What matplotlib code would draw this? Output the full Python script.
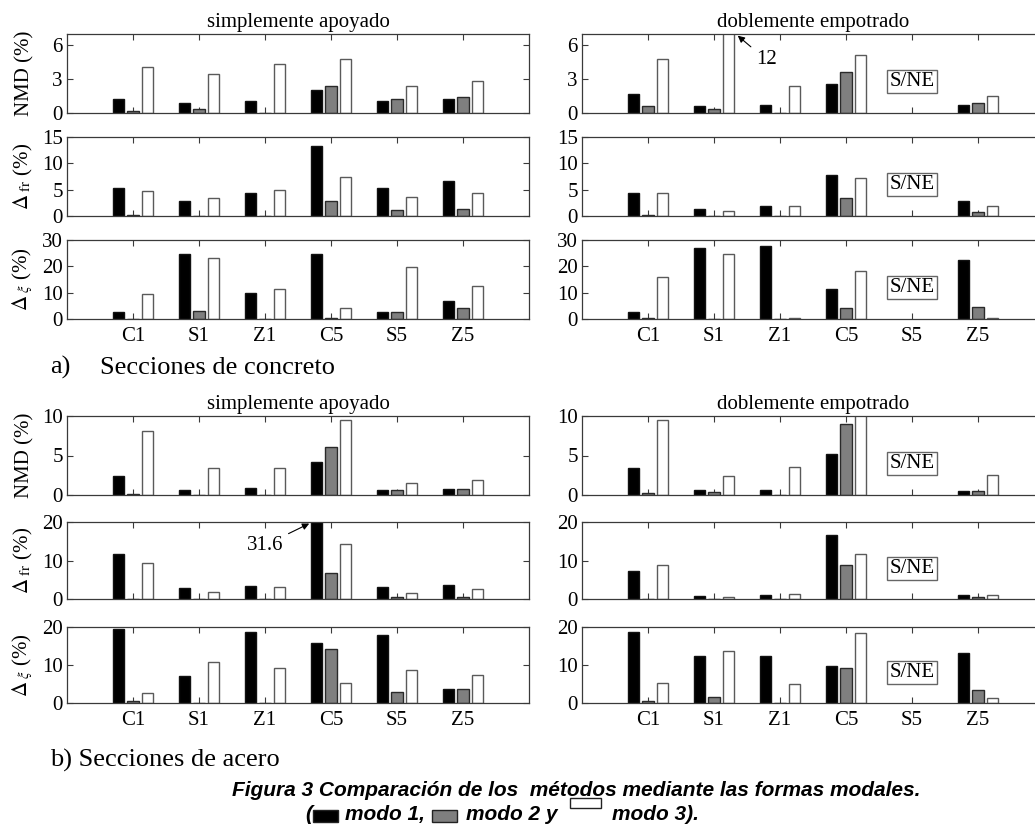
import numpy as np
import matplotlib
matplotlib.use('Agg')
import matplotlib.pyplot as plt
from matplotlib.patches import Rectangle
import matplotlib.transforms as mtransforms

plt.rcParams['font.family'] = ['Liberation Serif', 'DejaVu Serif']
plt.rcParams['mathtext.fontset'] = 'stix'

# ---------------- data ----------------
sections = ['C1', 'S1', 'Z1', 'C5', 'S5', 'Z5']
modes = ['modo 1', 'modo 2', 'modo 3']
nan = np.nan

# a) concrete sections, simply supported  (rows: modo 1, modo 2, modo 3)
conc_sa_nmd = [[1.23, 0.84, 1.05, 2.00, 0.99, 1.17],
               [0.15, 0.33, 0.00, 2.37, 1.20, 1.41],
               [4.08, 3.45, 4.30, 4.74, 2.34, 2.85]]
conc_sa_dfr = [[5.35, 2.90, 4.45, 13.2, 5.35, 6.60],
               [0.15, 0.00, 0.00, 2.80, 1.10, 1.40],
               [4.70, 3.35, 5.00, 7.50, 3.60, 4.30]]
conc_sa_dxi = [[2.56, 24.6, 9.90, 24.6, 2.56, 6.90],
               [0.00, 3.20, 0.00, 0.40, 2.56, 4.10],
               [9.40, 23.2, 11.5, 4.10, 19.9, 12.4]]
# a) concrete sections, fixed-fixed
conc_de_nmd = [[1.62, 0.54, 0.66, 2.52, nan, 0.69],
               [0.54, 0.33, 0.00, 3.57, nan, 0.81],
               [4.74, 12.0, 2.34, 5.10, nan, 1.50]]
conc_de_dfr = [[4.45, 1.40, 1.87, 7.87, nan, 2.90],
               [0.15, 0.00, 0.00, 3.40, nan, 0.77],
               [4.40, 0.97, 1.87, 7.16, nan, 1.87]]
conc_de_dxi = [[2.80, 26.8, 27.9, 11.3, nan, 22.4],
               [0.50, 0.00, 0.00, 4.10, nan, 4.40],
               [15.9, 24.6, 0.40, 18.2, nan, 0.50]]
# b) steel sections, simply supported
steel_sa_nmd = [[2.40, 0.67, 0.88, 4.12, 0.63, 0.71],
                [0.13, 0.00, 0.00, 6.10, 0.67, 0.80],
                [8.10, 3.40, 3.40, 9.45, 1.55, 1.93]]
steel_sa_dfr = [[11.6, 2.83, 3.40, 31.6, 3.00, 3.60],
                [0.00, 0.00, 0.00, 6.70, 0.60, 0.60],
                [9.35, 1.90, 3.13, 14.2, 1.63, 2.50]]
steel_sa_dxi = [[19.6, 7.10, 18.6, 15.9, 17.9, 3.80],
                [0.43, 0.00, 0.00, 14.2, 2.90, 3.70],
                [2.60, 10.9, 9.20, 5.30, 8.60, 7.30]]
# b) steel sections, fixed-fixed
steel_de_nmd = [[3.45, 0.59, 0.59, 5.13, nan, 0.50],
                [0.30, 0.38, 0.00, 8.95, nan, 0.55],
                [9.50, 2.40, 3.53, 10.5, nan, 2.52]]
steel_de_dfr = [[7.40, 0.69, 1.10, 16.65, nan, 1.10],
                [0.00, 0.00, 0.00, 8.85, nan, 0.43],
                [8.85, 0.43, 1.20, 11.6, nan, 1.10]]
steel_de_dxi = [[18.8, 12.45, 12.45, 9.70, nan, 13.05],
                [0.43, 1.55, 0.00, 9.20, nan, 3.43],
                [5.15, 13.65, 4.90, 18.45, nan, 1.30]]

# ---------------- style ----------------
W, H = 1035, 825
fig = plt.figure(figsize=(W / 100, H / 100), dpi=100)
fig.patch.set_facecolor('white')

face = ['#000000', '#7f7f7f', '#ffffff']
edge = ['#111111', '#2a2a2a', '#5a5a5a']
offsets = [-0.22, 0.0, 0.22]
bar_w = 0.18
spine_c = '#3a3a3a'
TICK_FS = 15
LABEL_FS = 15

ylabels = ['NMD (%)', r'$\Delta_{\ \mathrm{fr}}$ (%)', r'$\Delta_{\ \xi}$ (%)']


def make_ax(left_px, top_px, bottom_px, width_px=462):
    return fig.add_axes([left_px / W, 1 - bottom_px / H, width_px / W,
                         (bottom_px - top_px) / H])


def draw_panel(ax, data, ylim, yticks, show_x, ylabel=None, sne=False):
    x = np.arange(1, len(sections) + 1)
    for m in range(3):
        ax.bar(x + offsets[m], data[m], width=bar_w, color=face[m],
               edgecolor=edge[m], linewidth=1.0, zorder=2)
    ax.set_xlim(0, 7)
    ax.set_ylim(*ylim)
    ax.set_yticks(yticks)
    ax.set_xticks(x)
    if show_x:
        ax.set_xticklabels(sections, fontsize=TICK_FS)
    else:
        ax.set_xticklabels([])
    ax.tick_params(axis='both', direction='in', top=True, right=True,
                   length=4, width=0.8, color=spine_c, labelsize=TICK_FS,
                   pad=3)
    ax.tick_params(axis='x', pad=6)
    for s in ax.spines.values():
        s.set_color(spine_c)
        s.set_linewidth(0.9)
    if ylabel is not None:
        ax.set_ylabel(ylabel, fontsize=LABEL_FS)
        ax.yaxis.set_label_coords(-0.07, 0.5)
    if sne:
        trans = mtransforms.blended_transform_factory(ax.transData, ax.transAxes)
        ax.text(5, 0.4, 'S/NE', transform=trans, ha='center', va='center',
                fontsize=15, zorder=5,
                bbox=dict(boxstyle='square,pad=0.1', fc='white',
                          ec='#666666', lw=1.0))


groups = [
    dict(rows=[(34, 112.5), (137, 216), (240, 319)],
         left=[conc_sa_nmd, conc_sa_dfr, conc_sa_dxi],
         right=[conc_de_nmd, conc_de_dfr, conc_de_dxi],
         ylims=[(0, 7), (0, 15), (0, 30)],
         yticks=[[0, 3, 6], [0, 5, 10, 15], [0, 10, 20, 30]]),
    dict(rows=[(416, 495), (522, 599), (627, 703)],
         left=[steel_sa_nmd, steel_sa_dfr, steel_sa_dxi],
         right=[steel_de_nmd, steel_de_dfr, steel_de_dxi],
         ylims=[(0, 10), (0, 20), (0, 20)],
         yticks=[[0, 5, 10], [0, 10, 20], [0, 10, 20]]),
]

axes = {}
for g, grp in enumerate(groups):
    for r, (top, bot) in enumerate(grp['rows']):
        axl = make_ax(67, top, bot)
        draw_panel(axl, grp['left'][r], grp['ylims'][r], grp['yticks'][r],
                   show_x=(r == 2), ylabel=ylabels[r])
        axr = make_ax(582, top, bot)
        draw_panel(axr, grp['right'][r], grp['ylims'][r], grp['yticks'][r],
                   show_x=(r == 2), sne=True)
        axes[(g, r, 'L')] = axl
        axes[(g, r, 'R')] = axr
        if r == 0:
            axl.set_title('simplemente apoyado', fontsize=15, pad=5)
            axr.set_title('doblemente empotrado', fontsize=15, pad=5)

# annotations for clipped bars (value taken from the data)
ax = axes[(0, 0, 'R')]
v = conc_de_nmd[2][1]
ax.annotate(f'{v:g}', xy=(2 + offsets[2] + 0.14, 6.85), xytext=(2.79, 4.7),
            ha='center', va='center', fontsize=15,
            arrowprops=dict(arrowstyle='-|>', color='black', lw=0.8,
                            mutation_scale=10, shrinkA=2, shrinkB=0))
ax = axes[(1, 1, 'L')]
v = steel_sa_dfr[0][3]
ax.annotate(f'{v:g}', xy=(4 + offsets[0] - 0.11, 19.6), xytext=(3.0, 14.0),
            ha='center', va='center', fontsize=15,
            arrowprops=dict(arrowstyle='-|>', color='black', lw=0.8,
                            mutation_scale=10, shrinkA=2, shrinkB=0))

# sub-figure labels
fig.text(50 / W, 1 - 374 / H, 'a)', fontsize=19, va='baseline', ha='left')
fig.text(100 / W, 1 - 374 / H, 'Secciones de concreto', fontsize=19,
         va='baseline', ha='left')
fig.text(50 / W, 1 - 767 / H, 'b) Secciones de acero', fontsize=19,
         va='baseline', ha='left')

# caption
cap = dict(family=['Liberation Sans', 'DejaVu Sans'], weight='bold',
           style='italic', fontsize=15)
fig.text(232 / W, 1 - 796 / H,
         'Figura 3 Comparación de los  métodos mediante las formas modales.',
         va='baseline', ha='left', **cap)

base = 820.0
# caption legend line: (kind, content, left pixel)
pieces = [('t', '(', 305), ('r', 0, 313), ('t', 'modo 1,', 345),
          ('r', 1, 432), ('t', 'modo 2 y', 466), ('r', 2, 570),
          ('t', 'modo 3).', 612)]
for kind, val, xpx in pieces:
    if kind == 't':
        fig.text(xpx / W, 1 - base / H, val, va='baseline', ha='left', **cap)
    else:
        if val == 2:
            rw, rh, rb = 31, 10, base - 12
        else:
            rw, rh, rb = 25, 12, base + 2
        fig.patches.append(Rectangle((xpx / W, 1 - rb / H), rw / W, rh / H,
                                     transform=fig.transFigure,
                                     facecolor=face[val], edgecolor='#222222',
                                     linewidth=1.0))

fig.savefig('out.png', dpi=100)
